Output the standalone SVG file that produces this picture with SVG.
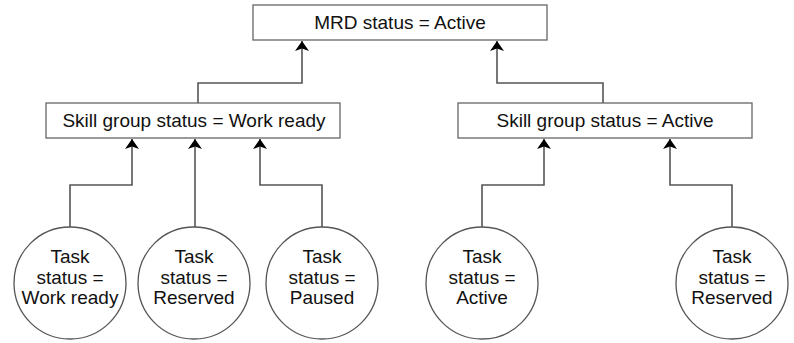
<svg xmlns="http://www.w3.org/2000/svg" width="794" height="343" viewBox="0 0 794 343">
<style>
.box{fill:#fff;stroke:#666;stroke-width:1.3}
.circ{fill:#fff;stroke:#555;stroke-width:1.3}
.t{font-family:"Liberation Sans",Arial,sans-serif;font-size:19px;fill:#111;text-anchor:middle}
.c{fill:none;stroke:#555;stroke-width:1.6}
</style>
<defs>
<marker id="ah" viewBox="0 0 10 14" refX="10" refY="7" markerWidth="10" markerHeight="14" markerUnits="userSpaceOnUse" orient="auto">
<path d="M0,0 L10,7 L0,14 L2.5,7 Z" fill="#000"/>
</marker>
</defs>
<rect width="794" height="343" fill="#fff"/>
<g id="connectors">
<path class="c" d="M198,103 V83 H302 V41" marker-end="url(#ah)"/>
<path class="c" d="M603,103 V83 H497 V41" marker-end="url(#ah)"/>
<path class="c" d="M70,227 V185 H132 V139" marker-end="url(#ah)"/>
<path class="c" d="M195,227 V139" marker-end="url(#ah)"/>
<path class="c" d="M322,227 V185 H260 V139" marker-end="url(#ah)"/>
<path class="c" d="M482,227 V185 H544 V139" marker-end="url(#ah)"/>
<path class="c" d="M732,227 V185 H670 V139" marker-end="url(#ah)"/>
</g>
<g id="mrd">
<rect class="box" x="253" y="5" width="294" height="35"/>
<text class="t" x="400" y="29">MRD status = Active</text>
</g>
<g id="skill1">
<rect class="box" x="46" y="103" width="294" height="35"/>
<text class="t" x="194" y="127">Skill group status = Work ready</text>
</g>
<g id="skill2">
<rect class="box" x="458" y="103" width="294" height="35"/>
<text class="t" x="605" y="127">Skill group status = Active</text>
</g>
<g id="task1">
<circle class="circ" cx="70" cy="283" r="56"/>
<text class="t" x="70" y="263">Task</text>
<text class="t" x="70" y="284">status =</text>
<text class="t" x="70" y="304">Work ready</text>
</g>
<g id="task2">
<circle class="circ" cx="194" cy="283" r="56"/>
<text class="t" x="194" y="263">Task</text>
<text class="t" x="194" y="284">status =</text>
<text class="t" x="194" y="304">Reserved</text>
</g>
<g id="task3">
<circle class="circ" cx="322" cy="283" r="56"/>
<text class="t" x="322" y="263">Task</text>
<text class="t" x="322" y="284">status =</text>
<text class="t" x="322" y="304">Paused</text>
</g>
<g id="task4">
<circle class="circ" cx="482" cy="283" r="56"/>
<text class="t" x="482" y="263">Task</text>
<text class="t" x="482" y="284">status =</text>
<text class="t" x="482" y="304">Active</text>
</g>
<g id="task5">
<circle class="circ" cx="732" cy="283" r="56"/>
<text class="t" x="732" y="263">Task</text>
<text class="t" x="732" y="284">status =</text>
<text class="t" x="732" y="304">Reserved</text>
</g>
</svg>
